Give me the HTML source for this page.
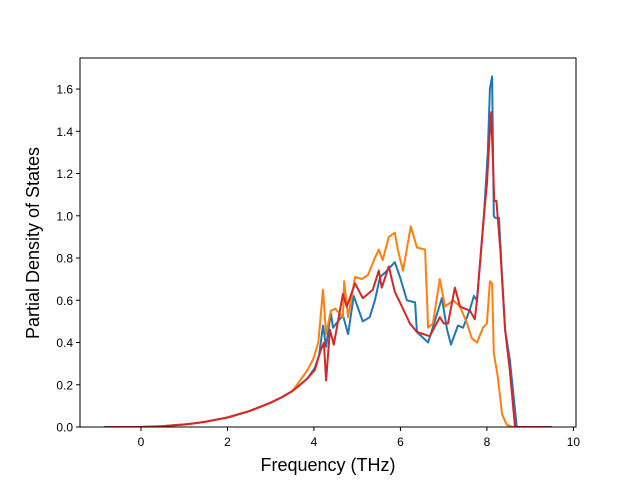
<!DOCTYPE html>
<html><head><meta charset="utf-8"><style>
body{margin:0;background:#fff}
svg{display:block;font-family:"Liberation Sans","DejaVu Sans",sans-serif}
</style></head><body>
<svg id="chart" width="640" height="480">
<rect x="0" y="0" width="640" height="480" fill="#fff"/>
<g id="series"></g>
<g id="axes"></g>
<text x="328" y="471" font-size="18" text-anchor="middle">Frequency (THz)</text>
<text transform="translate(39,243) rotate(-90)" font-size="18" text-anchor="middle">Partial Density of States</text>
</svg>
<script>
const prefixF=[-0.85,0,0.5,0.75,1,1.25,1.5,2,2.5,3,3.25,3.5];
const prefixV=[0,0,0.004,0.008,0.012,0.018,0.025,0.045,0.075,0.115,0.14,0.17];
const blueF=[3.68,3.85,4.02,4.12,4.21,4.28,4.39,4.44,4.67,4.79,4.92,5.13,5.29,5.41,5.53,5.64,5.87,5.99,6.15,6.34,6.38,6.64,6.96,7.08,7.17,7.33,7.45,7.61,7.70,7.77,7.93,8.02,8.07,8.12,8.16,8.19,8.28,8.35,8.42,8.53,8.65,8.69,9.5];
const blueV=[0.20,0.23,0.28,0.34,0.48,0.38,0.54,0.47,0.53,0.44,0.62,0.50,0.52,0.60,0.71,0.73,0.78,0.71,0.60,0.59,0.45,0.40,0.61,0.46,0.39,0.48,0.47,0.56,0.62,0.60,1.0,1.3,1.6,1.66,1.0,0.99,0.99,0.71,0.46,0.32,0.08,0,0];
const orangeF=[3.68,3.85,3.98,4.1,4.21,4.28,4.39,4.49,4.67,4.70,4.79,4.95,5.11,5.25,5.41,5.50,5.59,5.73,5.87,5.94,6.06,6.24,6.38,6.57,6.64,6.75,6.91,7.03,7.22,7.38,7.54,7.65,7.77,7.91,8.0,8.07,8.12,8.16,8.25,8.35,8.46,8.6,9.5];
const orangeV=[0.22,0.27,0.32,0.40,0.65,0.44,0.55,0.56,0.52,0.69,0.52,0.71,0.70,0.72,0.80,0.84,0.79,0.90,0.92,0.84,0.74,0.95,0.85,0.84,0.47,0.49,0.70,0.57,0.60,0.57,0.49,0.42,0.40,0.47,0.49,0.69,0.68,0.35,0.24,0.06,0.01,0,0];
const redF=[3.68,3.85,4.02,4.15,4.23,4.28,4.37,4.46,4.67,4.76,4.95,5.13,5.36,5.50,5.57,5.73,5.87,5.99,6.22,6.38,6.68,6.91,7.0,7.1,7.26,7.38,7.61,7.72,7.77,7.93,8.0,8.07,8.10,8.17,8.22,8.31,8.42,8.53,8.65,9.5];
const redV=[0.20,0.23,0.27,0.36,0.40,0.22,0.46,0.39,0.63,0.57,0.68,0.61,0.65,0.74,0.66,0.76,0.64,0.59,0.49,0.45,0.43,0.52,0.49,0.49,0.66,0.57,0.55,0.51,0.60,1.0,1.15,1.4,1.49,1.07,1.07,0.84,0.46,0.27,0,0];
const xTicks=[0,2,4,6,8,10];
const yTicks=[0,0.2,0.4,0.6,0.8,1.0,1.2,1.4,1.6];
const yLabels=["0.0","0.2","0.4","0.6","0.8","1.0","1.2","1.4","1.6"];

const L=80,R=576,T=58,B=427,xmin=-1.41,xmax=10.06,ymin=0,ymax=1.747;
function sx(f){return L+(f-xmin)/(xmax-xmin)*(R-L);}
function sy(v){return B-(v-ymin)/(ymax-ymin)*(B-T);}
const NS="http://www.w3.org/2000/svg";
const sg=document.getElementById('series'), ag=document.getElementById('axes');
function line(F,V,color,name){
  const fs=prefixF.concat(F), vs=prefixV.concat(V);
  const p=document.createElementNS(NS,'polyline');
  p.setAttribute('points',fs.map((f,i)=>sx(f).toFixed(1)+','+sy(vs[i]).toFixed(1)).join(' '));
  p.setAttribute('fill','none');p.setAttribute('stroke',color);p.setAttribute('stroke-width','2');
  p.setAttribute('stroke-linejoin','round');
  
  
  sg.appendChild(p);
}
line(blueF,blueV,'#1f77b4','series-blue-line');
line(orangeF,orangeV,'#ff7f0e','series-orange-line');
line(redF,redV,'#d62728','series-red-line');
const clip=document.createElementNS(NS,'clipPath');clip.id='c';
const cr=document.createElementNS(NS,'rect');cr.setAttribute('x',L);cr.setAttribute('y',T);cr.setAttribute('width',R-L);cr.setAttribute('height',B-T);
clip.appendChild(cr);document.getElementById('chart').appendChild(clip);
sg.setAttribute('clip-path','url(#c)');
const frame=document.createElementNS(NS,'rect');
frame.setAttribute('x',L);frame.setAttribute('y',T);frame.setAttribute('width',R-L);frame.setAttribute('height',B-T);
frame.setAttribute('fill','none');frame.setAttribute('stroke','#000');frame.setAttribute('stroke-width','1');


ag.appendChild(frame);
xTicks.forEach(t=>{
  const x=sx(t);
  const l=document.createElementNS(NS,'line');
  l.setAttribute('x1',x);l.setAttribute('x2',x);l.setAttribute('y1',B);l.setAttribute('y2',B+4);l.setAttribute('stroke','#000');
  
  
  ag.appendChild(l);
  const tx=document.createElementNS(NS,'text');
  tx.setAttribute('x',x);tx.setAttribute('y',B+19);tx.setAttribute('font-size','12');tx.setAttribute('text-anchor','middle');
  tx.textContent=String(t);
  
  
  ag.appendChild(tx);
});
yTicks.forEach((t,i)=>{
  const y=sy(t);
  const l=document.createElementNS(NS,'line');
  l.setAttribute('x1',L-4);l.setAttribute('x2',L);l.setAttribute('y1',y);l.setAttribute('y2',y);l.setAttribute('stroke','#000');
  
  
  ag.appendChild(l);
  const tx=document.createElementNS(NS,'text');
  tx.setAttribute('x',L-7);tx.setAttribute('y',y+4.5);tx.setAttribute('font-size','12');tx.setAttribute('text-anchor','end');
  tx.textContent=yLabels[i];
  
  
  ag.appendChild(tx);
});
</script>
</body></html>
